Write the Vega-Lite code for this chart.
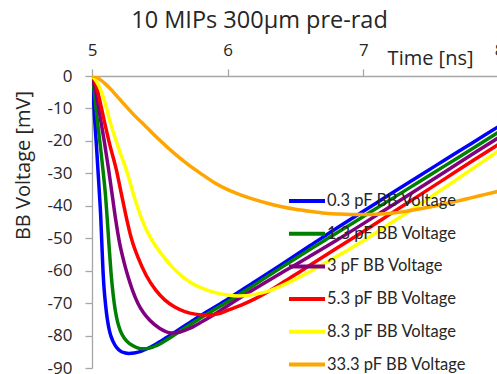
{
"$schema":"https://vega.github.io/schema/vega-lite/v6.json",
"autosize":"none",
"padding":{"left":92,"top":76,"right":0,"bottom":6},
"width":407,"height":292,
"background":"white",
"title":{"text":"10 MIPs 300μm pre-rad","font":"Open Sans","fontSize":23.5,"fontWeight":"normal","color":"#262626","anchor":"middle","dx":-36,"baseline":"alphabetic","offset":14,"dy":24},
"config":{"view":{"stroke":null}},
"data":{"values":[
{"s":"0.3 pF BB Voltage","t":5.0,"v":0},{"s":"0.3 pF BB Voltage","t":5.007,"v":-4.3},{"s":"0.3 pF BB Voltage","t":5.02,"v":-13.6},{"s":"0.3 pF BB Voltage","t":5.032,"v":-21},{"s":"0.3 pF BB Voltage","t":5.044,"v":-29},{"s":"0.3 pF BB Voltage","t":5.055,"v":-36.5},{"s":"0.3 pF BB Voltage","t":5.064,"v":-43},{"s":"0.3 pF BB Voltage","t":5.072,"v":-51},{"s":"0.3 pF BB Voltage","t":5.081,"v":-60},{"s":"0.3 pF BB Voltage","t":5.09,"v":-66},{"s":"0.3 pF BB Voltage","t":5.1,"v":-70.5},{"s":"0.3 pF BB Voltage","t":5.113,"v":-75},{"s":"0.3 pF BB Voltage","t":5.13,"v":-78.8},{"s":"0.3 pF BB Voltage","t":5.155,"v":-81.8},{"s":"0.3 pF BB Voltage","t":5.18,"v":-83.6},{"s":"0.3 pF BB Voltage","t":5.21,"v":-84.8},{"s":"0.3 pF BB Voltage","t":5.24,"v":-85.3},{"s":"0.3 pF BB Voltage","t":5.27,"v":-85.5},{"s":"0.3 pF BB Voltage","t":5.31,"v":-85.4},{"s":"0.3 pF BB Voltage","t":5.36,"v":-84.9},{"s":"0.3 pF BB Voltage","t":5.41,"v":-84.0},{"s":"0.3 pF BB Voltage","t":5.46,"v":-82.9},{"s":"0.3 pF BB Voltage","t":5.55,"v":-80.6},{"s":"0.3 pF BB Voltage","t":5.65,"v":-77.9},{"s":"0.3 pF BB Voltage","t":5.75,"v":-75.2},{"s":"0.3 pF BB Voltage","t":5.85,"v":-72.6},{"s":"0.3 pF BB Voltage","t":6.0,"v":-68.8},{"s":"0.3 pF BB Voltage","t":6.2,"v":-63.4},{"s":"0.3 pF BB Voltage","t":6.4,"v":-58.0},{"s":"0.3 pF BB Voltage","t":6.6,"v":-52.5},{"s":"0.3 pF BB Voltage","t":6.8,"v":-47.0},{"s":"0.3 pF BB Voltage","t":7.0,"v":-41.7},{"s":"0.3 pF BB Voltage","t":7.2,"v":-36.4},{"s":"0.3 pF BB Voltage","t":7.4,"v":-31.1},{"s":"0.3 pF BB Voltage","t":7.6,"v":-25.9},{"s":"0.3 pF BB Voltage","t":7.8,"v":-20.7},{"s":"0.3 pF BB Voltage","t":8.0,"v":-15.5},
{"s":"1.3 pF BB Voltage","t":5.0,"v":0},{"s":"1.3 pF BB Voltage","t":5.015,"v":-4.3},{"s":"1.3 pF BB Voltage","t":5.039,"v":-13.6},{"s":"1.3 pF BB Voltage","t":5.06,"v":-21},{"s":"1.3 pF BB Voltage","t":5.081,"v":-29},{"s":"1.3 pF BB Voltage","t":5.1,"v":-37},{"s":"1.3 pF BB Voltage","t":5.113,"v":-44.4},{"s":"1.3 pF BB Voltage","t":5.125,"v":-52},{"s":"1.3 pF BB Voltage","t":5.14,"v":-60.5},{"s":"1.3 pF BB Voltage","t":5.155,"v":-67},{"s":"1.3 pF BB Voltage","t":5.17,"v":-71.8},{"s":"1.3 pF BB Voltage","t":5.19,"v":-76},{"s":"1.3 pF BB Voltage","t":5.21,"v":-78.6},{"s":"1.3 pF BB Voltage","t":5.24,"v":-80.9},{"s":"1.3 pF BB Voltage","t":5.28,"v":-82.6},{"s":"1.3 pF BB Voltage","t":5.33,"v":-83.7},{"s":"1.3 pF BB Voltage","t":5.376,"v":-84.1},{"s":"1.3 pF BB Voltage","t":5.43,"v":-83.8},{"s":"1.3 pF BB Voltage","t":5.5,"v":-82.6},{"s":"1.3 pF BB Voltage","t":5.6,"v":-80.0},{"s":"1.3 pF BB Voltage","t":5.7,"v":-77.2},{"s":"1.3 pF BB Voltage","t":5.8,"v":-74.6},{"s":"1.3 pF BB Voltage","t":6.0,"v":-69.6},{"s":"1.3 pF BB Voltage","t":6.2,"v":-64.3},{"s":"1.3 pF BB Voltage","t":6.4,"v":-58.9},{"s":"1.3 pF BB Voltage","t":6.6,"v":-53.6},{"s":"1.3 pF BB Voltage","t":6.8,"v":-48.5},{"s":"1.3 pF BB Voltage","t":7.0,"v":-43.3},{"s":"1.3 pF BB Voltage","t":7.2,"v":-38.1},{"s":"1.3 pF BB Voltage","t":7.4,"v":-32.9},{"s":"1.3 pF BB Voltage","t":7.6,"v":-27.7},{"s":"1.3 pF BB Voltage","t":7.8,"v":-22.5},{"s":"1.3 pF BB Voltage","t":8.0,"v":-17.2},
{"s":"3 pF BB Voltage","t":5.0,"v":0},{"s":"3 pF BB Voltage","t":5.025,"v":-4.3},{"s":"3 pF BB Voltage","t":5.045,"v":-8.8},{"s":"3 pF BB Voltage","t":5.064,"v":-13.6},{"s":"3 pF BB Voltage","t":5.09,"v":-20},{"s":"3 pF BB Voltage","t":5.123,"v":-29},{"s":"3 pF BB Voltage","t":5.15,"v":-37},{"s":"3 pF BB Voltage","t":5.175,"v":-44.4},{"s":"3 pF BB Voltage","t":5.204,"v":-51.6},{"s":"3 pF BB Voltage","t":5.235,"v":-57.2},{"s":"3 pF BB Voltage","t":5.266,"v":-61.9},{"s":"3 pF BB Voltage","t":5.3,"v":-66.2},{"s":"3 pF BB Voltage","t":5.339,"v":-70.1},{"s":"3 pF BB Voltage","t":5.38,"v":-73.0},{"s":"3 pF BB Voltage","t":5.426,"v":-75.3},{"s":"3 pF BB Voltage","t":5.5,"v":-77.8},{"s":"3 pF BB Voltage","t":5.585,"v":-79.2},{"s":"3 pF BB Voltage","t":5.65,"v":-78.9},{"s":"3 pF BB Voltage","t":5.72,"v":-77.8},{"s":"3 pF BB Voltage","t":5.8,"v":-76.0},{"s":"3 pF BB Voltage","t":5.9,"v":-73.5},{"s":"3 pF BB Voltage","t":6.0,"v":-70.8},{"s":"3 pF BB Voltage","t":6.2,"v":-65.6},{"s":"3 pF BB Voltage","t":6.4,"v":-60.6},{"s":"3 pF BB Voltage","t":6.6,"v":-55.7},{"s":"3 pF BB Voltage","t":6.8,"v":-50.7},{"s":"3 pF BB Voltage","t":7.0,"v":-45.5},{"s":"3 pF BB Voltage","t":7.2,"v":-40.2},{"s":"3 pF BB Voltage","t":7.4,"v":-34.9},{"s":"3 pF BB Voltage","t":7.6,"v":-29.6},{"s":"3 pF BB Voltage","t":7.8,"v":-24.2},{"s":"3 pF BB Voltage","t":8.0,"v":-18.9},
{"s":"5.3 pF BB Voltage","t":5.0,"v":0},{"s":"5.3 pF BB Voltage","t":5.02,"v":-1.6},{"s":"5.3 pF BB Voltage","t":5.039,"v":-4.3},{"s":"5.3 pF BB Voltage","t":5.065,"v":-9},{"s":"5.3 pF BB Voltage","t":5.089,"v":-13.6},{"s":"5.3 pF BB Voltage","t":5.13,"v":-21},{"s":"5.3 pF BB Voltage","t":5.18,"v":-29.0},{"s":"5.3 pF BB Voltage","t":5.215,"v":-36},{"s":"5.3 pF BB Voltage","t":5.25,"v":-43},{"s":"5.3 pF BB Voltage","t":5.29,"v":-50},{"s":"5.3 pF BB Voltage","t":5.34,"v":-56},{"s":"5.3 pF BB Voltage","t":5.4,"v":-61.5},{"s":"5.3 pF BB Voltage","t":5.47,"v":-66.0},{"s":"5.3 pF BB Voltage","t":5.536,"v":-69.0},{"s":"5.3 pF BB Voltage","t":5.61,"v":-71.2},{"s":"5.3 pF BB Voltage","t":5.684,"v":-72.6},{"s":"5.3 pF BB Voltage","t":5.76,"v":-73.4},{"s":"5.3 pF BB Voltage","t":5.85,"v":-73.7},{"s":"5.3 pF BB Voltage","t":5.93,"v":-73.3},{"s":"5.3 pF BB Voltage","t":6.0,"v":-72.2},{"s":"5.3 pF BB Voltage","t":6.1,"v":-70.6},{"s":"5.3 pF BB Voltage","t":6.2,"v":-68.7},{"s":"5.3 pF BB Voltage","t":6.3,"v":-66.4},{"s":"5.3 pF BB Voltage","t":6.4,"v":-63.8},{"s":"5.3 pF BB Voltage","t":6.5,"v":-61.2},{"s":"5.3 pF BB Voltage","t":6.6,"v":-58.5},{"s":"5.3 pF BB Voltage","t":6.8,"v":-53.2},{"s":"5.3 pF BB Voltage","t":7.0,"v":-47.9},{"s":"5.3 pF BB Voltage","t":7.2,"v":-42.5},{"s":"5.3 pF BB Voltage","t":7.4,"v":-37.1},{"s":"5.3 pF BB Voltage","t":7.6,"v":-31.7},{"s":"5.3 pF BB Voltage","t":7.8,"v":-26.3},{"s":"5.3 pF BB Voltage","t":8.0,"v":-21.0},
{"s":"8.3 pF BB Voltage","t":5.0,"v":0},{"s":"8.3 pF BB Voltage","t":5.03,"v":-1.5},{"s":"8.3 pF BB Voltage","t":5.064,"v":-4.3},{"s":"8.3 pF BB Voltage","t":5.1,"v":-8.8},{"s":"8.3 pF BB Voltage","t":5.13,"v":-13.6},{"s":"8.3 pF BB Voltage","t":5.19,"v":-21.5},{"s":"8.3 pF BB Voltage","t":5.253,"v":-29.0},{"s":"8.3 pF BB Voltage","t":5.31,"v":-37.0},{"s":"8.3 pF BB Voltage","t":5.364,"v":-43.8},{"s":"8.3 pF BB Voltage","t":5.41,"v":-48.2},{"s":"8.3 pF BB Voltage","t":5.463,"v":-52.0},{"s":"8.3 pF BB Voltage","t":5.52,"v":-55.3},{"s":"8.3 pF BB Voltage","t":5.585,"v":-58.6},{"s":"8.3 pF BB Voltage","t":5.66,"v":-61.6},{"s":"8.3 pF BB Voltage","t":5.733,"v":-63.8},{"s":"8.3 pF BB Voltage","t":5.81,"v":-65.4},{"s":"8.3 pF BB Voltage","t":5.895,"v":-66.6},{"s":"8.3 pF BB Voltage","t":6.0,"v":-67.5},{"s":"8.3 pF BB Voltage","t":6.08,"v":-67.8},{"s":"8.3 pF BB Voltage","t":6.2,"v":-67.3},{"s":"8.3 pF BB Voltage","t":6.3,"v":-66.3},{"s":"8.3 pF BB Voltage","t":6.4,"v":-64.6},{"s":"8.3 pF BB Voltage","t":6.5,"v":-62.6},{"s":"8.3 pF BB Voltage","t":6.6,"v":-60.4},{"s":"8.3 pF BB Voltage","t":6.7,"v":-58.1},{"s":"8.3 pF BB Voltage","t":6.8,"v":-55.7},{"s":"8.3 pF BB Voltage","t":6.9,"v":-53.3},{"s":"8.3 pF BB Voltage","t":7.0,"v":-50.8},{"s":"8.3 pF BB Voltage","t":7.2,"v":-45.4},{"s":"8.3 pF BB Voltage","t":7.4,"v":-40.0},{"s":"8.3 pF BB Voltage","t":7.6,"v":-34.4},{"s":"8.3 pF BB Voltage","t":7.8,"v":-28.7},{"s":"8.3 pF BB Voltage","t":8.0,"v":-23.0},
{"s":"33.3 pF BB Voltage","t":5.0,"v":0},{"s":"33.3 pF BB Voltage","t":5.03,"v":-0.3},{"s":"33.3 pF BB Voltage","t":5.06,"v":-1.1},{"s":"33.3 pF BB Voltage","t":5.1,"v":-2.5},{"s":"33.3 pF BB Voltage","t":5.15,"v":-4.6},{"s":"33.3 pF BB Voltage","t":5.2,"v":-7.0},{"s":"33.3 pF BB Voltage","t":5.3,"v":-11.6},{"s":"33.3 pF BB Voltage","t":5.4,"v":-15.7},{"s":"33.3 pF BB Voltage","t":5.5,"v":-19.8},{"s":"33.3 pF BB Voltage","t":5.6,"v":-23.6},{"s":"33.3 pF BB Voltage","t":5.7,"v":-27.0},{"s":"33.3 pF BB Voltage","t":5.8,"v":-30.0},{"s":"33.3 pF BB Voltage","t":5.9,"v":-32.8},{"s":"33.3 pF BB Voltage","t":6.0,"v":-35.0},{"s":"33.3 pF BB Voltage","t":6.1,"v":-36.7},{"s":"33.3 pF BB Voltage","t":6.2,"v":-38.1},{"s":"33.3 pF BB Voltage","t":6.3,"v":-39.3},{"s":"33.3 pF BB Voltage","t":6.4,"v":-40.3},{"s":"33.3 pF BB Voltage","t":6.5,"v":-41.1},{"s":"33.3 pF BB Voltage","t":6.6,"v":-41.7},{"s":"33.3 pF BB Voltage","t":6.7,"v":-42.2},{"s":"33.3 pF BB Voltage","t":6.8,"v":-42.5},{"s":"33.3 pF BB Voltage","t":6.9,"v":-42.7},{"s":"33.3 pF BB Voltage","t":7.0,"v":-42.7},{"s":"33.3 pF BB Voltage","t":7.1,"v":-42.6},{"s":"33.3 pF BB Voltage","t":7.2,"v":-42.3},{"s":"33.3 pF BB Voltage","t":7.3,"v":-41.8},{"s":"33.3 pF BB Voltage","t":7.4,"v":-41.1},{"s":"33.3 pF BB Voltage","t":7.5,"v":-40.3},{"s":"33.3 pF BB Voltage","t":7.6,"v":-39.4},{"s":"33.3 pF BB Voltage","t":7.7,"v":-38.5},{"s":"33.3 pF BB Voltage","t":7.8,"v":-37.5},{"s":"33.3 pF BB Voltage","t":7.9,"v":-36.5},{"s":"33.3 pF BB Voltage","t":8.0,"v":-35.5}
]},
"mark":{"type":"line","strokeWidth":3.5,"interpolate":"monotone","clip":true},
"encoding":{
"x":{"field":"t","type":"quantitative","scale":{"domain":[5,8],"nice":false,"zero":false},
 "axis":{"orient":"top","values":[5,6,7,8],"title":"Time [ns]","grid":false,"domainColor":"#a6a6a6","tickColor":"#a6a6a6","domainWidth":1.3,"tickWidth":1.3,"tickSize":7,"labelPadding":14,"labelBaseline":"alphabetic","labelFont":"Open Sans","labelFontSize":17,"labelColor":"#262626","labelFlush":false,"labelOverlap":false,"titleFont":"Open Sans","titleFontSize":20,"titleFontWeight":"normal","titleColor":"#262626","titleAnchor":null,"titleAlign":"right","titleBaseline":"alphabetic","titleX":381,"titleY":-12}},
"y":{"field":"v","type":"quantitative","scale":{"domain":[-90,0],"nice":false,"zero":false},
 "axis":{"values":[0,-10,-20,-30,-40,-50,-60,-70,-80,-90],"labelExpr":"datum.value == 0 ? '0' : '-' + abs(datum.value)","title":"BB Voltage [mV]","grid":false,"domainColor":"#a6a6a6","tickColor":"#a6a6a6","domainWidth":1.3,"tickWidth":1.3,"tickSize":7,"labelPadding":13,"labelFont":"Open Sans","labelFontSize":17,"labelColor":"#262626","labelFlush":false,"labelOverlap":false,"titleFont":"Open Sans","titleFontSize":20,"titleFontWeight":"normal","titleColor":"#262626","titleAngle":-90,"titleAlign":"center","titleBaseline":"middle","titleAnchor":null,"titleX":-69,"titleY":89}},
"color":{"field":"s","type":"nominal",
 "scale":{"domain":["0.3 pF BB Voltage","1.3 pF BB Voltage","3 pF BB Voltage","5.3 pF BB Voltage","8.3 pF BB Voltage","33.3 pF BB Voltage"],"range":["#0000ff","#008000","#800080","#ff0000","#ffff00","#ffa500"]},
 "legend":{"title":null,"orient":"none","legendX":195,"legendY":105,"padding":0,"symbolType":"stroke","symbolSize":1296,"symbolStrokeWidth":4,"labelFont":"Lato","labelFontSize":16.5,"labelColor":"#262626","labelOffset":0,"rowPadding":3.7,"labelLimit":300}}
}
}
